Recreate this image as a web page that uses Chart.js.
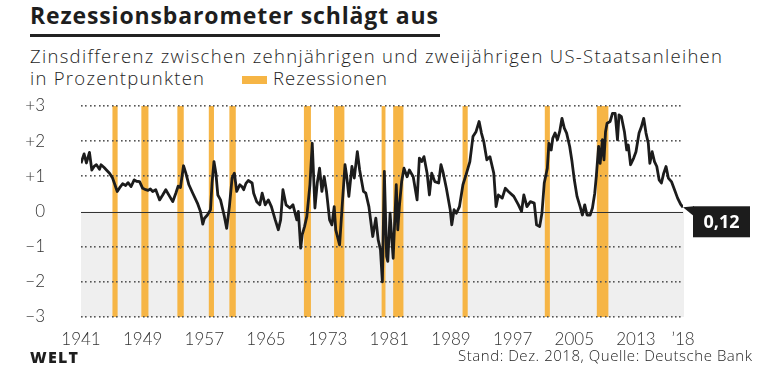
<!DOCTYPE html>
<html lang="de">
<head>
<meta charset="utf-8">
<script src="https://cdn.jsdelivr.net/npm/chart.js@4.4.1/dist/chart.umd.min.js"></script>
<style>
  html, body { margin: 0; padding: 0; background: #fff; }
  body { width: 780px; height: 373px; position: relative; overflow: hidden; font-family: 'Open Sans', sans-serif; color: #1e1e1e; }
  .txt { position: absolute; white-space: nowrap; line-height: 1; }
  #title { left: 30px; top: 4px; font-size: 23px; font-weight: 700; }
  #rule { position: absolute; left: 30px; top: 34px; width: 410px; height: 3px; background: #222; }
  #sub1 { left: 30px; top: 47px; font-size: 18.5px; font-weight: 300; }
  #sub2 { left: 30px; top: 69px; font-size: 18.5px; font-weight: 300; }
  #swatch { position: absolute; left: 242px; top: 76px; width: 25px; height: 8px; background: #f6b545; }
  #legend { left: 273px; top: 69px; font-size: 18.5px; font-weight: 300; }
  #logo { left: 30px; top: 349px; font-size: 16px; font-weight: 800; }
  #source { left: 458px; top: 348px; font-size: 15px; font-weight: 300; }
  #chartBox { position: absolute; left: 0; top: 95px; width: 780px; height: 260px; }
</style>
</head>
<body>
<span class="txt" id="title">Rezessionsbarometer schlägt aus</span>
<div id="rule"></div>
<span class="txt" id="sub1">Zinsdifferenz zwischen zehnjährigen und zweijährigen US-Staatsanleihen</span>
<span class="txt" id="sub2">in Prozentpunkten</span>
<div id="swatch"></div>
<span class="txt" id="legend">Rezessionen</span>
<div id="chartBox"><canvas id="spread" width="780" height="260"></canvas></div>
<span class="txt" id="logo">WELT</span>
<span class="txt" id="source">Stand: Dez. 2018, Quelle: Deutsche Bank</span>

<script>
/* ---------- data (read from the graphic) ---------- */
const years = [
  1941.0, 1941.4, 1941.7, 1942.1, 1942.4, 1942.7, 1943.0, 1943.4, 1943.6, 1944.0,
  1944.3, 1944.7, 1945.1, 1945.4, 1945.7, 1946.0, 1946.4, 1946.8, 1947.1, 1947.5,
  1947.9, 1948.2, 1948.6, 1949.0, 1949.4, 1949.7, 1950.0, 1950.3, 1950.7, 1951.2,
  1951.6, 1952.0, 1952.5, 1952.9, 1953.3, 1953.6, 1953.9, 1954.3, 1954.6, 1955.0,
  1955.5, 1956.1, 1956.5, 1956.8, 1957.0, 1957.4, 1957.8, 1958.0, 1958.25, 1958.5,
  1958.75, 1959.1, 1959.6, 1959.9, 1960.25, 1960.6, 1960.9, 1961.2, 1961.6, 1961.9,
  1962.1, 1962.4, 1962.7, 1963.2, 1963.4, 1963.8, 1964.2, 1964.5, 1964.9, 1965.3,
  1965.7, 1966.2, 1966.6, 1966.9, 1967.2, 1967.6, 1968.1, 1968.5, 1969.0, 1969.2,
  1969.5, 1969.7, 1970.0, 1970.3, 1970.7, 1971.0, 1971.35, 1971.65, 1971.95, 1972.25,
  1972.55, 1972.85, 1973.25, 1973.55, 1973.85, 1974.05, 1974.55, 1974.85, 1975.25, 1975.45,
  1975.75, 1976.15, 1976.45, 1976.85, 1977.15, 1977.65, 1977.95, 1978.35, 1978.85, 1979.25,
  1979.55, 1979.85, 1980.1, 1980.35, 1980.65, 1980.8, 1981.1, 1981.3, 1981.5, 1981.9,
  1982.1, 1982.3, 1982.6, 1982.9, 1983.3, 1983.6, 1984.1, 1984.6, 1984.9, 1985.2,
  1985.5, 1985.9, 1986.2, 1986.5, 1986.9, 1987.4, 1987.7, 1988.0, 1988.4, 1988.9,
  1989.1, 1989.4, 1989.7, 1990.1, 1990.55, 1990.95, 1991.45, 1991.85, 1992.25, 1992.65,
  1992.95, 1993.25, 1993.65, 1994.05, 1994.55, 1994.85, 1995.15, 1995.65, 1996.05, 1996.45,
  1997.15, 1997.75, 1998.15, 1998.45, 1998.85, 1999.3, 1999.8, 2000.1, 2000.5, 2000.8,
  2001.1, 2001.5, 2001.7, 2002.0, 2002.2, 2002.5, 2002.8, 2003.1, 2003.4, 2003.7,
  2004.0, 2004.4, 2004.7, 2005.0, 2005.35, 2005.75, 2006.05, 2006.35, 2006.65, 2007.05,
  2007.35, 2007.65, 2007.85, 2008.15, 2008.35, 2008.65, 2008.85, 2009.05, 2009.25, 2009.65,
  2009.95, 2010.3, 2010.6, 2010.8, 2011.1, 2011.5, 2011.8, 2012.0, 2012.3, 2012.7,
  2013.0, 2013.4, 2013.7, 2014.0, 2014.3, 2014.6, 2014.8, 2015.1, 2015.4, 2015.7,
  2016.0, 2016.3, 2016.6, 2016.9, 2017.2, 2017.6, 2018.0, 2018.4, 2018.8, 2019.1
];
const spread = [
  1.37, 1.64, 1.38, 1.68, 1.18, 1.28, 1.33, 1.20, 1.33, 1.25,
  1.18, 1.09, 0.95, 0.76, 0.57, 0.67, 0.79, 0.74, 0.82, 0.71,
  0.90, 0.86, 0.85, 0.66, 0.62, 0.60, 0.64, 0.57, 0.62, 0.33,
  0.47, 0.62, 0.43, 0.28, 0.52, 0.72, 0.68, 1.30, 1.09, 0.76,
  0.52, 0.24, 0.00, -0.36, -0.20, -0.10, 0.05, 0.80, 1.42, 1.09,
  0.47, 0.33, -0.14, -0.48, 0.14, 0.95, 1.09, 0.57, 0.76, 0.70,
  0.62, 0.80, 0.88, 0.81, 0.52, 0.28, 0.19, 0.52, 0.19, 0.33,
  0.14, -0.24, -0.52, -0.24, 0.62, 0.19, 0.10, 0.19, -0.24, 0.00,
  -1.04, -0.66, -0.43, -0.14, 0.76, 1.94, 0.10, 0.81, 1.23, 0.57,
  0.99, 0.57, -0.24, -0.38, 0.14, -0.52, -0.95, 0.05, 1.33, 1.04,
  0.43, 1.28, 0.95, 1.70, 1.18, 0.57, 0.52, 0.14, -0.71, -0.19,
  -0.80, -1.09, -2.00, 1.14, -1.28, -1.42, -0.05, -0.71, -1.33, 0.76,
  -0.52, 0.14, 0.85, 1.23, 0.99, 1.18, 0.99, 0.33, 1.52, 1.42,
  1.56, 1.09, 0.47, 1.09, 0.85, 0.81, 1.33, 1.09, 0.66, 0.05,
  -0.38, 0.05, -0.05, 0.14, 0.76, 1.04, 1.42, 2.13, 2.27, 2.56,
  2.23, 1.99, 1.47, 1.56, 1.09, 0.14, 0.47, 0.38, 0.66, 0.57,
  0.43, 0.19, 0.00, 0.47, 0.14, 0.28, 0.24, -0.38, -0.43, -0.05,
  0.81, 1.23, 1.94, 1.75, 2.08, 2.23, 2.04, 2.27, 2.65, 2.37,
  2.23, 1.85, 1.42, 0.90, 0.43, 0.14, -0.10, 0.19, -0.10, -0.10,
  0.10, 0.52, 0.99, 1.85, 1.37, 2.04, 1.47, 2.27, 2.51, 2.56,
  2.79, 2.79, 2.04, 2.75, 2.70, 2.27, 1.75, 1.89, 1.33, 1.52,
  1.70, 2.23, 2.41, 2.65, 2.23, 1.94, 1.37, 1.70, 1.42, 1.28,
  0.90, 0.81, 1.09, 1.28, 0.95, 0.85, 0.62, 0.38, 0.20, 0.12
];

// US recessions (start / end as decimal years)
const recessionStart = [1945.08, 1948.83, 1953.50, 1957.58, 1960.25, 1969.92, 1973.83, 1980.00, 1981.50, 1990.50, 2001.17, 2007.92];
const recessionEnd   = [1945.75, 1949.75, 1954.33, 1958.25, 1961.08, 1970.83, 1975.17, 1980.50, 1982.83, 1991.17, 2001.83, 2009.42];

const xTickValues = [1941, 1949, 1957, 1965, 1973, 1981, 1989, 1997, 2005, 2013, 2019.1];
const xTickLabels = ['1941', '1949', '1957', '1965', '1973', '1981', '1989', '1997', '2005', '2013', '\u201918'];
const yTickValues = [3, 2, 1, 0, -1, -2, -3];
const yTickLabels = ['+3', '+2', '+1', '0', '\u22121', '\u22122', '\u22123'];
const lastLabel = '0,12';

const ORANGE = '#f6b545';
const INK = '#1c1c1c';

/* ---------- text widths: stretch to the widths in the original ---------- */
function fitWidth(id, target) {
  const el = document.getElementById(id);
  el.style.letterSpacing = '0px';
  const w = el.getBoundingClientRect().width;
  el.style.letterSpacing = ((target - w) / (el.textContent.length - 1)) + 'px';
}
fitWidth('title', 408);
fitWidth('sub1', 692);
fitWidth('sub2', 174);
fitWidth('legend', 114);
fitWidth('logo', 48);
fitWidth('source', 294);

/* ---------- backdrop: negative zone, recessions, grid, value tag ---------- */
const backdrop = {
  id: 'backdrop',
  beforeDatasetsDraw(chart) {
    const { ctx, chartArea: a, scales: { x, y } } = chart;
    const y0 = y.getPixelForValue(0);
    const yTop = y.getPixelForValue(3);
    const yBot = y.getPixelForValue(-3);
    ctx.save();
    ctx.fillStyle = '#efefef';
    ctx.fillRect(a.left, y0, a.right - a.left + 1, yBot - y0);

    ctx.fillStyle = ORANGE;
    recessionStart.forEach((s, i) => {
      const l = x.getPixelForValue(s);
      const r = x.getPixelForValue(recessionEnd[i]);
      ctx.fillRect(l, yTop, Math.max(r - l, 3), yBot - yTop);
    });

    // dotted grid lines
    ctx.fillStyle = '#555';
    yTickValues.forEach(v => {
      if (v === 0) return;
      const py = Math.round(y.getPixelForValue(v));
      for (let px = a.left; px <= a.right; px += 4.4) {
        ctx.fillRect(Math.round(px), py - 1, 1.6, 1.6);
      }
    });

    // zero line
    ctx.strokeStyle = '#333';
    ctx.lineWidth = 1;
    ctx.beginPath();
    ctx.moveTo(a.left, Math.round(y0) + 0.5);
    ctx.lineTo(a.right, Math.round(y0) + 0.5);
    ctx.stroke();
    ctx.restore();
  },
  afterDatasetsDraw(chart) {
    const { ctx, scales: { x, y } } = chart;
    const lx = x.getPixelForValue(years[years.length - 1]);
    const ly = y.getPixelForValue(spread[spread.length - 1]);
    const bx = lx + 10, by = ly - 1, bw = 57, bh = 31;
    ctx.save();
    ctx.fillStyle = INK;
    ctx.beginPath();
    ctx.moveTo(lx, ly);
    ctx.lineTo(bx + 1, by);
    ctx.lineTo(bx + 1, by + 10);
    ctx.closePath();
    ctx.fill();
    ctx.fillRect(bx, by, bw, bh);
    ctx.fillStyle = '#fff';
    ctx.font = '700 18px "Open Sans"';
    ctx.textAlign = 'center';
    ctx.textBaseline = 'middle';
    ctx.fillText(lastLabel, bx + bw / 2, by + bh / 2 + 1);
    ctx.restore();
  }
};

const tickFont = { family: 'Lato', size: 17, weight: '300' };

new Chart(document.getElementById('spread'), {
  type: 'line',
  data: {
    datasets: [{
      data: years.map((yr, i) => ({ x: yr, y: spread[i] })),
      borderColor: INK,
      borderWidth: 2.8,
      pointRadius: 0,
      tension: 0,
      borderJoinStyle: 'round',
      fill: false
    }]
  },
  options: {
    responsive: false,
    animation: false,
    devicePixelRatio: 1,
    layout: { padding: { top: 11, right: 97, left: 0, bottom: 0 } },
    plugins: { legend: { display: false }, tooltip: { enabled: false } },
    scales: {
      x: {
        type: 'linear',
        min: 1941,
        max: 2019.1,
        grid: { display: false },
        border: { display: false },
        afterBuildTicks: s => { s.ticks = xTickValues.map(v => ({ value: v })); },
        afterFit: s => { s.height = 38; },
        ticks: {
          autoSkip: false,
          maxRotation: 0,
          padding: 4,
          color: '#333',
          font: tickFont,
          callback: v => xTickLabels[xTickValues.indexOf(v)]
        }
      },
      y: {
        min: -3,
        max: 3,
        grid: { display: false },
        border: { display: false },
        afterBuildTicks: s => { s.ticks = yTickValues.map(v => ({ value: v })); },
        afterFit: s => { s.width = 81; s.paddingTop = 0; s.paddingBottom = 0; },
        ticks: {
          padding: 28,
          color: '#333',
          font: tickFont,
          callback: v => yTickLabels[yTickValues.indexOf(v)]
        }
      }
    }
  },
  plugins: [backdrop]
});
</script>
</body>
</html>
